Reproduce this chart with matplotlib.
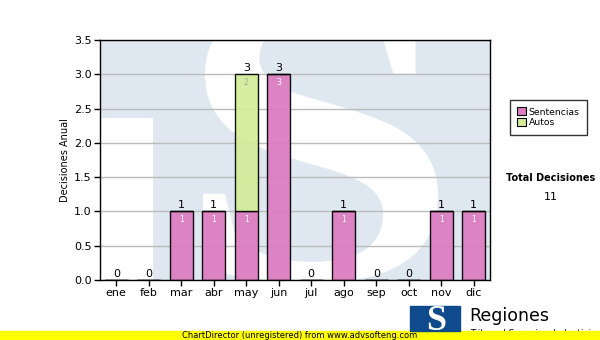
import numpy as np
from matplotlib import pyplot as plt
from matplotlib.patches import Rectangle, Patch, PathPatch
from matplotlib.textpath import TextPath
from matplotlib.font_manager import FontProperties
from matplotlib.transforms import Affine2D

meses = ["ene", "feb", "mar", "abr", "may", "jun", "jul", "ago", "sep", "oct", "nov", "dic"]
sentencias = [0, 0, 1, 1, 1, 3, 0, 1, 0, 0, 1, 1]
autos = [0, 0, 0, 0, 2, 0, 0, 0, 0, 0, 0, 0]
y_ticks = [0.0, 0.5, 1.0, 1.5, 2.0, 2.5, 3.0, 3.5]

COL_SENT = "#dc7bc0"
COL_AUTOS = "#d3ec98"
WM = "#dfe8f1"

W, H = 600, 340
fig = plt.figure(figsize=(6, 3.4), dpi=100)

def px(x, y):
    # pixel coords (from top-left) -> figure fraction
    return x / W, 1 - y / H

ax = fig.add_axes([100 / W, 60 / H, 390 / W, 240 / H])
ax.set_xlim(-0.5, 11.5)
ax.set_ylim(0, 3.5)
ax.set_facecolor(WM)

# watermark logo: white notch left of the T stem, white "S"
ax.add_patch(Rectangle((-0.5, 0), 1.63, 2.36, color="white", zorder=0.2, lw=0))
sp = TextPath((0, 0), "S", size=1, prop=FontProperties(family="Liberation Serif", weight="bold"))
ex = sp.get_extents()
x0, x1, y0, y1 = 2.67, 9.9, -0.04, 4.1
tr = Affine2D().translate(-ex.x0, -ex.y0).scale((x1 - x0) / ex.width, (y1 - y0) / ex.height).translate(x0, y0)
ax.add_patch(PathPatch(tr.transform_path(sp), color="white", lw=0, zorder=0.3))

ax.yaxis.grid(True, color="#bbbbbb", lw=1, zorder=0.5)
ax.set_axisbelow(True)

x = np.arange(len(meses))
bw = 0.71
ax.bar(x, sentencias, bw, color=COL_SENT, edgecolor="black", lw=1, zorder=2, alpha=0.93)
ax.bar(x, autos, bw, bottom=sentencias, color=COL_AUTOS, edgecolor="black", lw=1, zorder=2, alpha=0.93)

for i in range(len(meses)):
    total = sentencias[i] + autos[i]
    ax.text(x[i], total + 0.02, str(total), ha="center", va="bottom", fontsize=8, zorder=3)
    if sentencias[i] > 0:
        ax.text(x[i], sentencias[i] - 0.05, str(sentencias[i]), ha="center", va="top",
                fontsize=5.5, color="white", zorder=3)
    if autos[i] > 0:
        ax.text(x[i], sentencias[i] + autos[i] - 0.05, str(autos[i]), ha="center", va="top",
                fontsize=5.5, color="#a8a8a8", zorder=3)

ax.set_xticks(x)
ax.set_xticklabels(meses)
ax.set_yticks(y_ticks)
ax.set_yticklabels(["%.1f" % v for v in y_ticks])
ax.tick_params(labelsize=8, length=4, width=1, pad=2)
for s in ax.spines.values():
    s.set_linewidth(1)
ax.set_ylabel("Decisiones Anual", fontsize=7)
ax.yaxis.set_label_coords(-30 / 390, 0.5)

# legend
handles = [Patch(facecolor=COL_SENT, edgecolor="black", lw=0.8, label="Sentencias"),
           Patch(facecolor=COL_AUTOS, edgecolor="black", lw=0.8, label="Autos")]
leg = fig.legend(handles=handles, loc="upper left", bbox_to_anchor=px(510, 100),
                 fontsize=6.7, frameon=True, fancybox=False, handlelength=0.9,
                 handleheight=0.9, handletextpad=0.3, borderpad=0.8, labelspacing=0.2,
                 borderaxespad=0)
leg.get_frame().set_edgecolor("black")
leg.get_frame().set_linewidth(1)

fig.text(*px(551, 178), "Total Decisiones", fontsize=7, weight="bold", ha="center", va="center")
fig.text(*px(551, 197), "11", fontsize=8, ha="center", va="center")

# bottom banner and logo
fig.text(*px(470, 334), "Tribunal Superior de Justicia", fontsize=6.5, ha="left",
         va="center", zorder=0.5)
fig.patches.append(Rectangle(px(0, 340), 1, 9.5 / H, transform=fig.transFigure,
                             color="#ffff00", zorder=1))
fig.text(*px(300, 335), "ChartDirector (unregistered) from www.advsofteng.com",
         fontsize=6, ha="center", va="center", zorder=2)
fig.patches.append(Rectangle(px(410, 331), 50 / W, 25 / H, transform=fig.transFigure,
                             color="#0e4a8c", zorder=3))
fig.text(*px(436, 322), "S", family="Liberation Serif", weight="bold", fontsize=26,
         color="white", ha="center", va="center", zorder=4)
fig.text(*px(469, 316), "Regiones", fontsize=12.5, ha="left", va="center", zorder=4)

fig.savefig("out.png", dpi=100)
